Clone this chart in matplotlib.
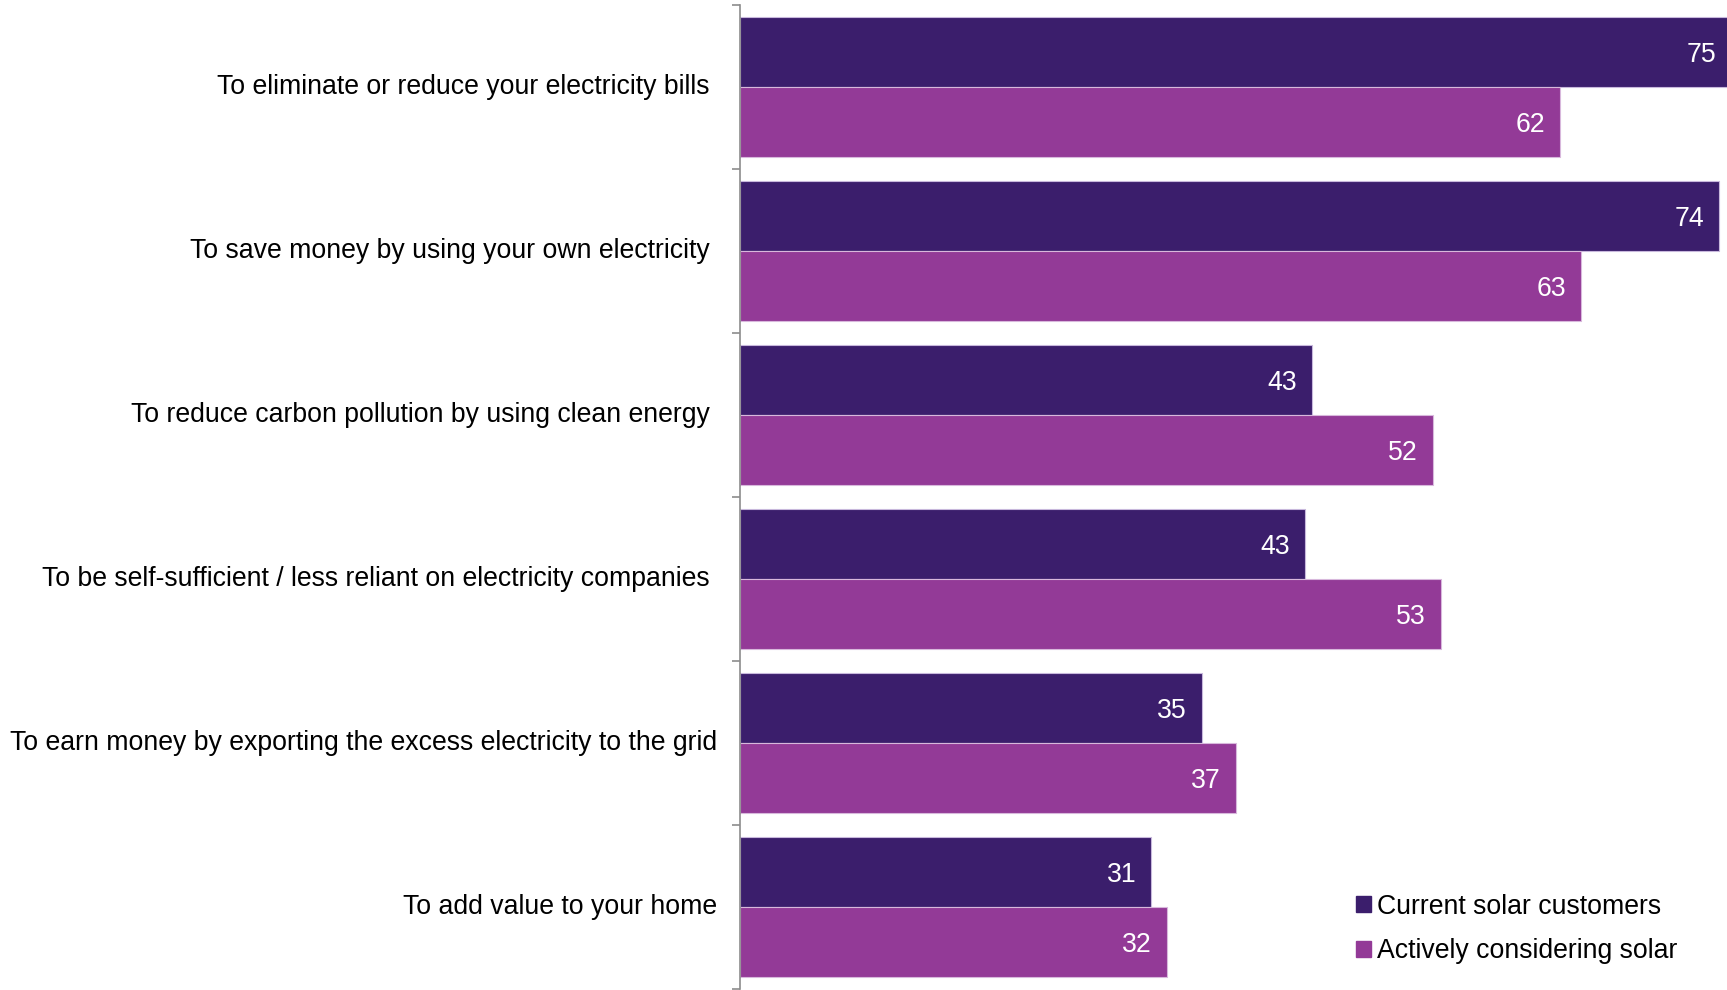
import matplotlib
matplotlib.use("Agg")
import matplotlib.pyplot as plt
import numpy as np
from matplotlib.patches import Patch

plt.rcParams['font.family'] = ['Liberation Sans', 'DejaVu Sans']

reasons = [
    "To eliminate or reduce your electricity bills",
    "To save money by using your own electricity",
    "To reduce carbon pollution by using clean energy",
    "To be self-sufficient / less reliant on electricity companies",
    "To earn money by exporting the excess electricity to the grid",
    "To add value to your home",
]
current = [74.7, 73.8, 43.1, 42.6, 34.8, 31.0]
considering = [61.8, 63.4, 52.2, 52.8, 37.4, 32.2]
current_labels = [75, 74, 43, 43, 35, 31]
considering_labels = [62, 63, 52, 53, 37, 32]

dark = '#3b1e6c'
light = '#933a97'
fs = 19.2

fig = plt.figure(figsize=(17.27, 9.90), dpi=100)
ax = fig.add_axes([740 / 1727, 1 - 989 / 990, 1 - 740 / 1727, 984 / 990])

y = np.arange(len(reasons))
h = 0.4268
ax.barh(y - h / 2, current, height=h, color=dark, edgecolor='#c8b8dc', linewidth=0.8)
ax.barh(y + h / 2, considering, height=h, color=light, edgecolor='#d8b8dc', linewidth=0.8)

for i in range(len(reasons)):
    ax.annotate(str(current_labels[i]), (current[i], y[i] - h / 2), xytext=(-11, 0),
                textcoords='offset points', ha='right', va='center_baseline', color='white',
                fontsize=fs, annotation_clip=False)
    ax.annotate(str(considering_labels[i]), (considering[i], y[i] + h / 2), xytext=(-11, 0),
                textcoords='offset points', ha='right', va='center_baseline', color='white',
                fontsize=fs, annotation_clip=False)

ax.set_xlim(0, 74.38)
ax.set_ylim(len(reasons) - 0.5, -0.5)

ax.set_yticks(y)
ax.set_yticklabels(reasons, fontsize=fs, va='center')
ax.tick_params(axis='y', which='major', length=0, pad=22)
for i, t in enumerate(ax.yaxis.get_major_ticks()):
    if i >= 4:
        t.set_pad(16.5)
ax.set_yticks(np.arange(len(reasons) + 1) - 0.5, minor=True)
ax.tick_params(axis='y', which='minor', length=6, width=1.2, color='#8c8c8c')
ax.set_xticks([])

for s in ['top', 'right', 'bottom']:
    ax.spines[s].set_visible(False)
ax.spines['left'].set_color('#8c8c8c')
ax.spines['left'].set_linewidth(1.2)

handles = [Patch(color=dark, label='Current solar customers'),
           Patch(color=light, label='Actively considering solar')]
fig.legend(handles=handles, loc='lower left', bbox_to_anchor=(1332 / 1727, 1 - 988 / 990),
           frameon=False, fontsize=fs, handlelength=0.55, handleheight=0.55,
           handletextpad=0.25, labelspacing=0.68)

fig.savefig('out.png', dpi=100)
